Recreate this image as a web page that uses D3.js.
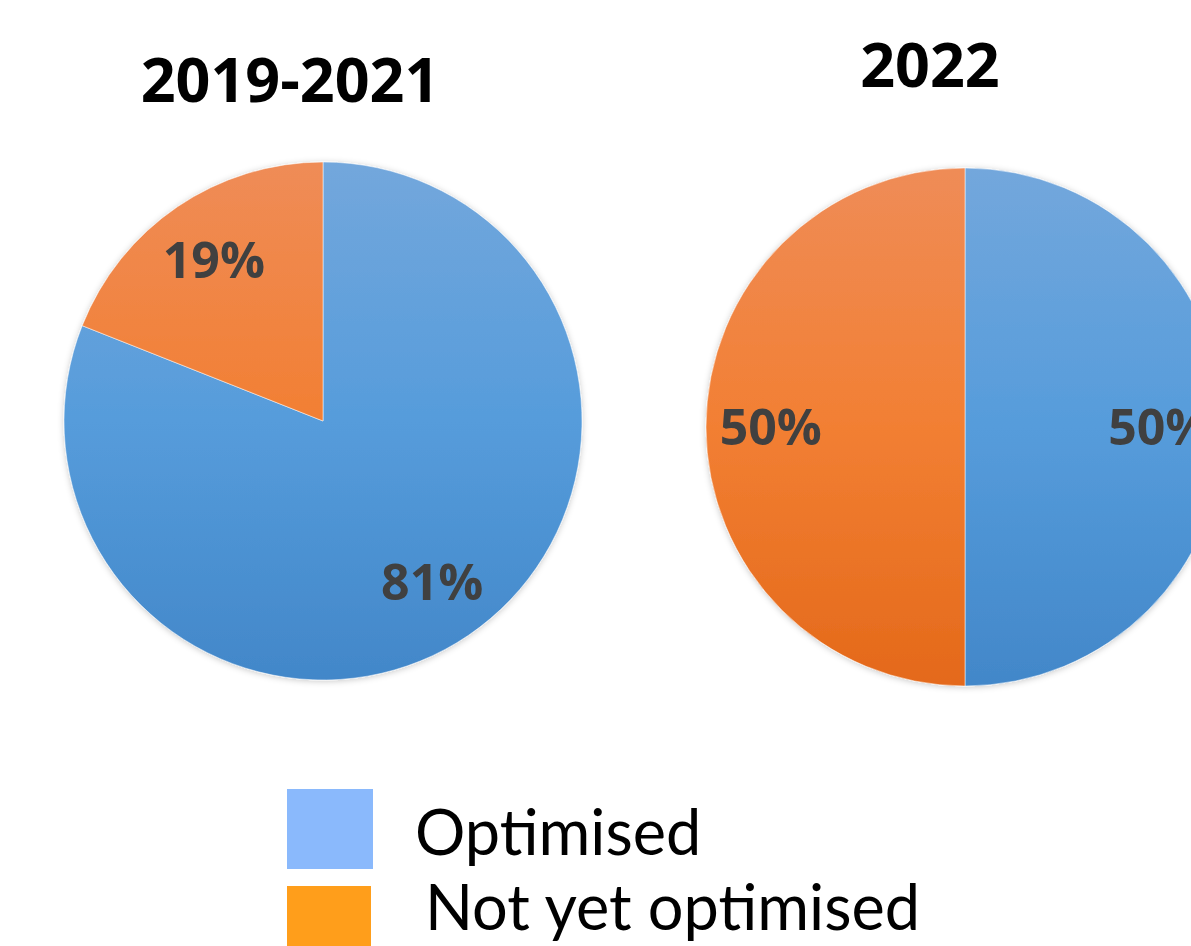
<!DOCTYPE html>
<html>
<head>
<meta charset="utf-8">
<script src="https://cdn.jsdelivr.net/npm/d3@7"></script>
<style>
  html, body { margin: 0; padding: 0; background: #fff; overflow: hidden; }
  svg { display: block; }
</style>
</head>
<body>
<svg id="chart" width="1191" height="946"></svg>
<script>
// Survey status per period
const categories = ["Optimised", "Not yet optimised"];
const periods = ["2019-2021", "2022"];
const optimised = [81, 50];
const notYetOptimised = [19, 50];
const legendLabels = ["Optimised", "Not yet optimised"];

const W = 1191, H = 946;
const svg = d3.select("#chart");
const defs = svg.append("defs");

// soft shadow around each pie
const shadow = defs.append("filter").attr("id", "pieShadow")
  .attr("x", "-10%").attr("y", "-10%").attr("width", "120%").attr("height", "120%");
shadow.append("feDropShadow").attr("dx", 0).attr("dy", 1)
  .attr("stdDeviation", 3).attr("flood-color", "#000").attr("flood-opacity", 0.22);

const R = 259;
const pieLayout = [
  { cx: 323, cy: 421, titleX: 290, titleY: 102 },
  { cx: 965, cy: 427, titleX: 930, titleY: 87 }
];

const gradStops = {
  "Optimised": ["#73a7dc", "#569cdb", "#4287c9"],
  "Not yet optimised": ["#ef8c57", "#f27f33", "#e4691a"]
};

const pie = d3.pie().sort(null).value(d => d.value).startAngle(0).endAngle(2 * Math.PI);
const arc = d3.arc().innerRadius(0).outerRadius(R);
const labelArc = d3.arc().innerRadius(R * 0.75).outerRadius(R * 0.75);

periods.forEach((period, i) => {
  const { cx, cy, titleX, titleY } = pieLayout[i];
  const data = [
    { key: categories[0], value: optimised[i] },
    { key: categories[1], value: notYetOptimised[i] }
  ];

  // vertical gradients in the pie group's local coordinates
  categories.forEach((c, k) => {
    const g = defs.append("linearGradient")
      .attr("id", `grad-${i}-${k}`)
      .attr("gradientUnits", "userSpaceOnUse")
      .attr("x1", 0).attr("x2", 0)
      .attr("y1", -R).attr("y2", R);
    const s = gradStops[c];
    g.append("stop").attr("offset", "0%").attr("stop-color", s[0]);
    g.append("stop").attr("offset", "50%").attr("stop-color", s[1]);
    g.append("stop").attr("offset", "100%").attr("stop-color", s[2]);
  });

  svg.append("text")
    .attr("x", titleX).attr("y", titleY)
    .attr("text-anchor", "middle")
    .attr("font-family", "'Open Sans', sans-serif")
    .attr("font-weight", 700)
    .attr("font-size", 61)
    .attr("fill", "#000")
    .text(period);

  const g = svg.append("g").attr("transform", `translate(${cx},${cy})`);
  const arcs = pie(data);

  g.append("g").attr("filter", "url(#pieShadow)")
    .selectAll("path").data(arcs).join("path")
    .attr("d", arc)
    .attr("fill", (d, k) => `url(#grad-${i}-${k})`)
    .attr("stroke", "rgba(255,255,255,0.5)")
    .attr("stroke-width", 1);

  g.selectAll("text.val").data(arcs).join("text")
    .attr("class", "val")
    .attr("transform", d => `translate(${labelArc.centroid(d)})`)
    .attr("text-anchor", "middle")
    .attr("dy", "0.36em")
    .attr("font-family", "'Open Sans', sans-serif")
    .attr("font-weight", 700)
    .attr("font-size", 50)
    .attr("fill", "#404040")
    .text(d => `${d.data.value}%`);
});

// Legend
const legendColors = ["#8ab9fc", "#ff9e1b"];
const legendRows = [
  { x: 287, y: 789, w: 86, h: 80, tx: 415, ty: 855 },
  { x: 287, y: 886, w: 84, h: 80, tx: 425, ty: 930 }
];
const legend = svg.append("g");
legendLabels.forEach((lab, k) => {
  const r = legendRows[k];
  legend.append("rect")
    .attr("x", r.x).attr("y", r.y).attr("width", r.w).attr("height", r.h)
    .attr("fill", legendColors[k]);
  legend.append("text")
    .attr("x", r.tx).attr("y", r.ty)
    .attr("font-family", "Lato, sans-serif")
    .attr("font-size", 63)
    .attr("fill", "#000")
    .text(lab);
});
</script>
</body>
</html>
